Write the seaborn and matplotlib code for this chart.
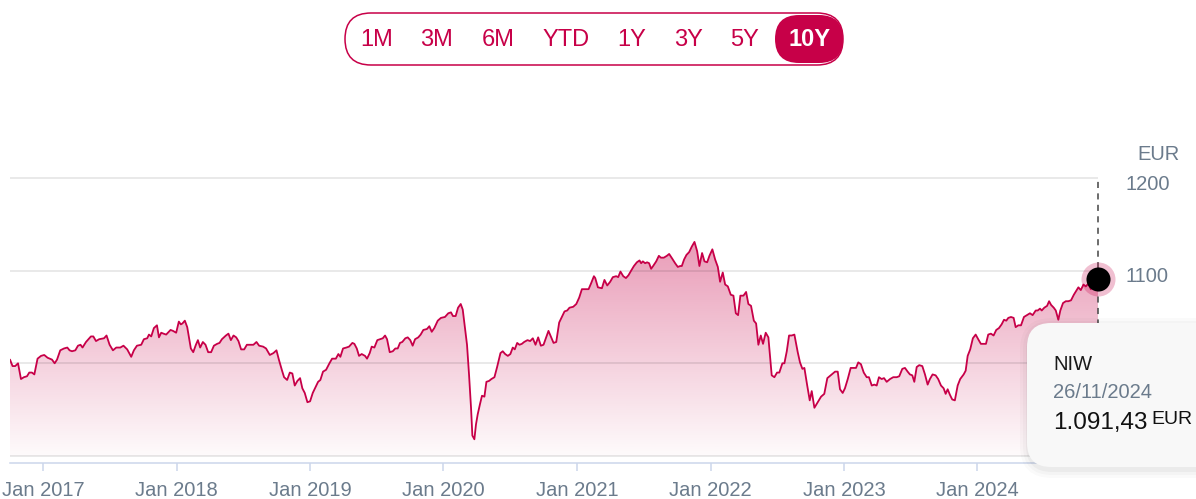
import numpy as np
import pandas as pd
import matplotlib
matplotlib.use("Agg")
import matplotlib.pyplot as plt
import matplotlib.dates as mdates
from matplotlib.colors import to_rgb
from matplotlib.patches import FancyBboxPatch, Polygon
from matplotlib.transforms import IdentityTransform, ScaledTranslation
import seaborn as sns

# price trace (time in decimal years, price in EUR)
years = [
    2016.751, 2016.770, 2016.790, 2016.811, 2016.833, 2016.855, 2016.878, 2016.895, 2016.915, 2016.933,
    2016.957, 2016.983, 2017.007, 2017.032, 2017.065, 2017.085, 2017.103, 2017.127, 2017.155, 2017.180,
    2017.197, 2017.215, 2017.240, 2017.260, 2017.279, 2017.294, 2017.320, 2017.357, 2017.375, 2017.395,
    2017.419, 2017.455, 2017.474, 2017.497, 2017.522, 2017.547, 2017.577, 2017.601, 2017.629, 2017.659,
    2017.679, 2017.702, 2017.734, 2017.754, 2017.779, 2017.792, 2017.809, 2017.829, 2017.852, 2017.867,
    2017.884, 2017.901, 2017.921, 2017.954, 2017.972, 2017.996, 2018.016, 2018.031, 2018.043, 2018.061,
    2018.079, 2018.106, 2018.124, 2018.144, 2018.159, 2018.176, 2018.196, 2018.216, 2018.236, 2018.258,
    2018.279, 2018.303, 2018.321, 2018.339, 2018.369, 2018.388, 2018.406, 2018.426, 2018.446, 2018.463,
    2018.483, 2018.506, 2018.526, 2018.553, 2018.575, 2018.598, 2018.618, 2018.648, 2018.670, 2018.698,
    2018.725, 2018.748, 2018.766, 2018.790, 2018.805, 2018.828, 2018.848, 2018.867, 2018.885, 2018.905,
    2018.925, 2018.942, 2018.960, 2018.980, 2019.000, 2019.020, 2019.043, 2019.060, 2019.077, 2019.097,
    2019.120, 2019.145, 2019.165, 2019.193, 2019.212, 2019.227, 2019.247, 2019.272, 2019.292, 2019.317,
    2019.332, 2019.350, 2019.367, 2019.387, 2019.412, 2019.427, 2019.447, 2019.462, 2019.482, 2019.504,
    2019.524, 2019.545, 2019.562, 2019.577, 2019.597, 2019.620, 2019.639, 2019.657, 2019.674, 2019.691,
    2019.714, 2019.732, 2019.751, 2019.769, 2019.787, 2019.811, 2019.829, 2019.849, 2019.876, 2019.894,
    2019.912, 2019.931, 2019.957, 2019.981, 2020.011, 2020.036, 2020.056, 2020.071, 2020.091, 2020.109,
    2020.129, 2020.144, 2020.161, 2020.176, 2020.191, 2020.206, 2020.216, 2020.231, 2020.243, 2020.256,
    2020.273, 2020.288, 2020.306, 2020.321, 2020.341, 2020.358, 2020.381, 2020.401, 2020.426, 2020.443,
    2020.461, 2020.481, 2020.500, 2020.518, 2020.533, 2020.551, 2020.568, 2020.586, 2020.603, 2020.628,
    2020.648, 2020.668, 2020.688, 2020.708, 2020.728, 2020.748, 2020.768, 2020.785, 2020.805, 2020.823,
    2020.843, 2020.865, 2020.885, 2020.905, 2020.925, 2020.942, 2020.970, 2020.993, 2021.015, 2021.035,
    2021.055, 2021.085, 2021.103, 2021.125, 2021.135, 2021.155, 2021.185, 2021.204, 2021.225, 2021.247,
    2021.267, 2021.292, 2021.307, 2021.324, 2021.345, 2021.365, 2021.384, 2021.404, 2021.425, 2021.447,
    2021.467, 2021.479, 2021.492, 2021.509, 2021.524, 2021.539, 2021.554, 2021.569, 2021.592, 2021.612,
    2021.627, 2021.649, 2021.672, 2021.689, 2021.712, 2021.734, 2021.754, 2021.772, 2021.784, 2021.801,
    2021.819, 2021.839, 2021.859, 2021.879, 2021.899, 2021.916, 2021.936, 2021.954, 2021.974, 2021.991,
    2022.013, 2022.034, 2022.054, 2022.071, 2022.091, 2022.109, 2022.129, 2022.151, 2022.171, 2022.189,
    2022.206, 2022.223, 2022.246, 2022.266, 2022.283, 2022.303, 2022.324, 2022.341, 2022.358, 2022.376,
    2022.393, 2022.413, 2022.433, 2022.458, 2022.478, 2022.498, 2022.515, 2022.538, 2022.553, 2022.571,
    2022.588, 2022.608, 2022.628, 2022.653, 2022.670, 2022.688, 2022.703, 2022.723, 2022.743, 2022.758,
    2022.778, 2022.803, 2022.828, 2022.852, 2022.875, 2022.908, 2022.933, 2022.953, 2022.970, 2022.990,
    2023.007, 2023.028, 2023.050, 2023.073, 2023.090, 2023.107, 2023.127, 2023.148, 2023.170, 2023.187,
    2023.208, 2023.227, 2023.245, 2023.262, 2023.282, 2023.300, 2023.320, 2023.345, 2023.369, 2023.395,
    2023.414, 2023.437, 2023.457, 2023.477, 2023.494, 2023.512, 2023.527, 2023.545, 2023.564, 2023.587,
    2023.607, 2023.627, 2023.644, 2023.664, 2023.687, 2023.706, 2023.727, 2023.747, 2023.762, 2023.777,
    2023.794, 2023.811, 2023.831, 2023.852, 2023.871, 2023.897, 2023.912, 2023.927, 2023.946, 2023.966,
    2023.987, 2024.006, 2024.026, 2024.046, 2024.064, 2024.081, 2024.101, 2024.121, 2024.141, 2024.161,
    2024.181, 2024.199, 2024.216, 2024.231, 2024.251, 2024.271, 2024.286, 2024.306, 2024.326, 2024.348,
    2024.371, 2024.393, 2024.413, 2024.436, 2024.451, 2024.468, 2024.481, 2024.500, 2024.521, 2024.536,
    2024.551, 2024.571, 2024.586, 2024.605, 2024.620, 2024.640, 2024.661, 2024.680, 2024.700, 2024.721,
    2024.738, 2024.755, 2024.773, 2024.793, 2024.810, 2024.830, 2024.848, 2024.863, 2024.880,
]
prices = [
    1004, 997, 997, 1000, 983, 985, 986, 990, 990, 988,
    1005, 1008, 1009, 1006, 1004, 1000, 1004, 1014, 1016, 1017,
    1014, 1013, 1014, 1019, 1020, 1017, 1023, 1029, 1029, 1024,
    1026, 1027, 1030, 1020, 1014, 1017, 1017, 1019, 1015, 1007,
    1014, 1019, 1020, 1026, 1027, 1031, 1029, 1038, 1041, 1028,
    1033, 1032, 1031, 1036, 1035, 1033, 1045, 1042, 1043, 1046,
    1039, 1016, 1012, 1020, 1025, 1017, 1023, 1020, 1012, 1012,
    1019, 1021, 1022, 1026, 1030, 1032, 1025, 1030, 1028, 1024,
    1015, 1015, 1020, 1020, 1020, 1023, 1019, 1018, 1016, 1009,
    1011, 1014, 1004, 992, 985, 982, 990, 989, 976, 981,
    984, 973, 968, 958, 959, 968, 975, 980, 982, 991,
    993, 1000, 1005, 1005, 1010, 1007, 1016, 1017, 1018, 1022,
    1021, 1016, 1008, 1010, 1008, 1005, 1011, 1018, 1017, 1025,
    1026, 1027, 1030, 1026, 1012, 1013, 1016, 1016, 1022, 1023,
    1027, 1028, 1025, 1019, 1026, 1028, 1031, 1036, 1037, 1040,
    1034, 1038, 1046, 1049, 1050, 1054, 1055, 1051, 1051, 1060,
    1064, 1058, 1038, 1020, 988, 952, 922, 918, 934, 945,
    956, 965, 964, 980, 981, 983, 985, 996, 1011, 1013,
    1010, 1008, 1010, 1017, 1015, 1022, 1020, 1021, 1023, 1025,
    1024, 1027, 1020, 1028, 1019, 1020, 1028, 1035, 1028, 1022,
    1023, 1044, 1050, 1056, 1057, 1060, 1061, 1064, 1071, 1080,
    1080, 1080, 1086, 1094, 1092, 1082, 1081, 1090, 1084, 1088,
    1093, 1094, 1093, 1099, 1094, 1092, 1095, 1100, 1105, 1109,
    1111, 1108, 1110, 1108, 1109, 1108, 1102, 1105, 1110, 1116,
    1114, 1114, 1116, 1118, 1113, 1108, 1104, 1105, 1105, 1112,
    1117, 1120, 1126, 1131, 1121, 1105, 1119, 1110, 1109, 1116,
    1123, 1112, 1104, 1088, 1098, 1085, 1083, 1074, 1073, 1054,
    1052, 1073, 1073, 1077, 1064, 1062, 1046, 1043, 1020, 1030,
    1021, 1033, 1028, 987, 985, 990, 990, 1000, 1000, 1013,
    1030, 1030, 1031, 1012, 1001, 994, 995, 977, 960, 970,
    952, 958, 964, 967, 984, 988, 991, 991, 972, 968,
    973, 983, 995, 995, 995, 1001, 999, 990, 985, 985,
    976, 977, 976, 985, 983, 984, 980, 983, 985, 985,
    986, 994, 995, 991, 988, 987, 980, 996, 998, 997,
    988, 977, 983, 988, 987, 983, 976, 973, 967, 972,
    966, 961, 960, 976, 983, 988, 992, 1008, 1015, 1027,
    1031, 1026, 1021, 1021, 1021, 1031, 1032, 1030, 1036, 1038,
    1042, 1047, 1046, 1049, 1050, 1049, 1039, 1041, 1041, 1050,
    1052, 1054, 1052, 1057, 1057, 1059, 1057, 1060, 1062, 1067,
    1063, 1060, 1057, 1047, 1057, 1065, 1067, 1067, 1068, 1074,
    1078, 1082, 1079, 1085, 1083, 1086, 1080, 1085, 1082,
]
last_day = "2024-11-26"
last_price = 1091.43

fund_name = "NIW"
tip_date = "26/11/2024"
tip_value = "1.091,43"
currency = "EUR"

range_labels = ["1M", "3M", "6M", "YTD", "1Y", "3Y", "5Y", "10Y"]
tick_years = [2017, 2018, 2019, 2020, 2021, 2022, 2023, 2024]
y_ticks = [900, 1000, 1100, 1200]
y_tick_labels = ["", "1000", "1100", "1200"]

CRIMSON = "#c70048"
LABEL = "#6b7b8c"
AXIS = "#ccd6eb"


def year_to_date(y):
    yr = int(y)
    start = pd.Timestamp(yr, 1, 1)
    return start + (pd.Timestamp(yr + 1, 1, 1) - start) * (y - yr)


df = pd.DataFrame({
    "date": [year_to_date(y) for y in years] + [pd.Timestamp(last_day)],
    "price": prices + [last_price],
})

sns.set_style("white")
plt.rcParams["font.family"] = ["Liberation Sans", "DejaVu Sans"]

W, H = 1196, 499
fig = plt.figure(figsize=(W / 100, H / 100), dpi=100)
ymin, ymax = 892.4, 1203
ax = fig.add_axes([10 / W, 1 - 463 / H, 1088 / W, (463 - 175.2) / H])

sns.lineplot(data=df, x="date", y="price", color=CRIMSON, linewidth=1.3, ax=ax, zorder=4)

# gradient area under the line
xn = mdates.date2num(df["date"])
grad = np.zeros((300, 1, 4))
grad[..., :3] = to_rgb(CRIMSON)
grad[:, 0, 3] = np.linspace(0.5, 0.02, 300)
im = ax.imshow(grad, extent=[xn[0], xn[-1], 900, 1200], aspect="auto",
               origin="upper", zorder=1, interpolation="bilinear")
clip = Polygon(np.column_stack([np.r_[xn[0], xn, xn[-1]], np.r_[900, df["price"], 900]]),
               transform=ax.transData, facecolor="none", edgecolor="none")
ax.add_patch(clip)
im.set_clip_path(clip)

ax.set_xlim(xn[0], xn[-1])
ax.set_ylim(ymin, ymax)

ax.set_yticks(y_ticks)
ax.set_yticklabels(y_tick_labels)
ax.yaxis.tick_right()
ax.yaxis.grid(True, color="black", alpha=0.1, linewidth=1.2)
ax.xaxis.grid(False)
ax.set_axisbelow("line")
ax.tick_params(axis="y", length=0, pad=19.5, labelsize=14.5, labelcolor=LABEL)
shift = ScaledTranslation(0, -3 / 72, fig.dpi_scale_trans)
for lab in ax.get_yticklabels():
    lab.set_transform(lab.get_transform() + shift)

ax.set_xticks([mdates.date2num(pd.Timestamp(y, 1, 1)) for y in tick_years])
ax.set_xticklabels([f"Jan {y}" for y in tick_years])
ax.tick_params(axis="x", bottom=True, direction="out", length=5.8, width=1.1, color=AXIS,
               pad=7.5, labelsize=14.5, labelcolor=LABEL)
for s in ["top", "left", "right"]:
    ax.spines[s].set_visible(False)
ax.spines["bottom"].set_color(AXIS)
ax.spines["bottom"].set_linewidth(1.1)
ax.set_xlabel("")
ax.set_ylabel("")

# crosshair and hovered point
ax.plot([xn[-1], xn[-1]], [ymin, 1200], ls=(0, (4, 3.5)), color="#444444",
        lw=1.1, clip_on=False, zorder=5)
ax.scatter([xn[-1]], [last_price], s=600, color=CRIMSON, alpha=0.25,
           linewidths=0, clip_on=False, zorder=6)
ax.scatter([xn[-1]], [last_price], s=300, color="black",
           linewidths=0, clip_on=False, zorder=7)

fig.text(1137, H - 155, currency, transform=IdentityTransform(), ha="left",
         va="center", fontsize=14.5, color=LABEL)

# range selector
T = IdentityTransform()
fig.add_artist(FancyBboxPatch((345, H - 65), 498, 52, boxstyle="round,pad=0,rounding_size=26",
                              transform=T, facecolor="white", edgecolor=CRIMSON, lw=1.1))
fig.add_artist(FancyBboxPatch((775, H - 63), 68, 48, boxstyle="round,pad=0,rounding_size=24",
                              transform=T, facecolor=CRIMSON, edgecolor="none"))
button_x = [376.5, 437, 498, 566.5, 632, 688.5, 744.5, 810]
for lbl, bx in zip(range_labels, button_x):
    sel = lbl == "10Y"
    fig.text(bx, H - 39.5, lbl, transform=T, ha="center", va="center", fontsize=17,
             color="white" if sel else CRIMSON, fontweight="bold" if sel else "normal")

# tooltip
for i, a in enumerate([0.02, 0.025, 0.035]):
    g = 8 - 3 * i
    fig.add_artist(FancyBboxPatch((1027 - g + 1, H - 467 - g - 3), 260 + 2 * g, 144 + 2 * g,
                                  boxstyle=f"round,pad=0,rounding_size={24 + g}", transform=T,
                                  facecolor="black", edgecolor="none", alpha=a, zorder=19))
fig.add_artist(FancyBboxPatch((1027, H - 467), 260, 144, boxstyle="round,pad=0,rounding_size=24",
                              transform=T, facecolor="#f8f8f8", edgecolor="none", zorder=20))
fig.text(1053, H - 364.5, fund_name, transform=T, ha="left", va="center",
         fontsize=14.5, color="#1a1a1a", zorder=21)
fig.text(1053, H - 392, tip_date, transform=T, ha="left", va="center",
         fontsize=14.5, color=LABEL, zorder=21)
fig.text(1053, H - 423, tip_value, transform=T, ha="left", va="center",
         fontsize=17.5, color="#111111", zorder=21)
fig.text(1151, H - 419, currency, transform=T, ha="left", va="center",
         fontsize=14, color="#111111", zorder=21)

fig.savefig("out.png", dpi=100)
